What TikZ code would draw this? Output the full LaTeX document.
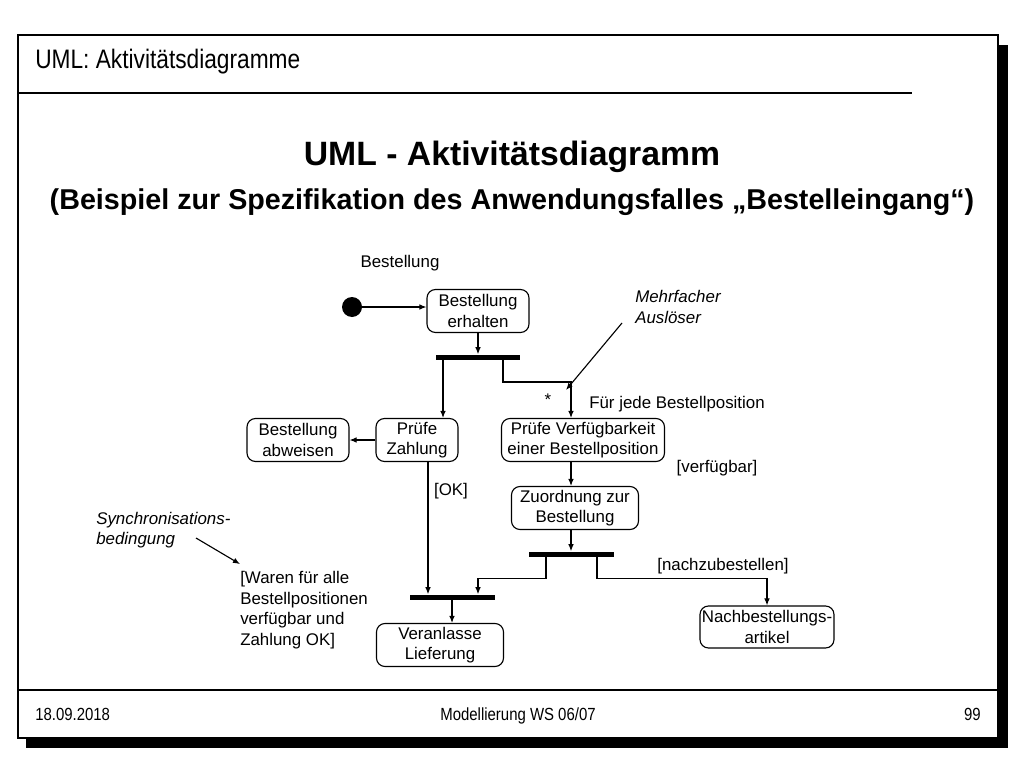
\documentclass[tikz,border=0pt]{standalone}
\usepackage{fontspec}
\setmainfont{Liberation Sans}
\newfontfamily\narrowfont[FakeStretch=0.85]{Liberation Sans}
\usepackage{tikz}
\usetikzlibrary{calc,arrows.meta,positioning}

\begin{document}
\begin{tikzpicture}[x=0.025cm,y=-0.025cm]

  % Parameters
  \def\pxl{0.025cm}
  \def\hact{43*\pxl}
  \def\diag{\fontsize{12}{14.6}\selectfont}

  % Styles
  \tikzstyle{frame}=[draw,line width=1pt,fill=white]
  \tikzstyle{rule}=[line width=1pt]
  \tikzstyle{foot}=[inner sep=0pt,font=\narrowfont\fontsize{12.5}{15}\selectfont]
  \tikzstyle{action}=[draw,line width=0.8pt,rounded corners=6pt,align=center,inner sep=1pt,minimum height=\hact,font=\diag]
  \tikzstyle{bar}=[fill=black,inner sep=0pt,minimum height=5*\pxl]
  \tikzstyle{flow}=[-{Latex[length=5pt,width=4pt]},line width=0.8pt]
  \tikzstyle{lbl}=[inner sep=0pt,font=\diag]
  \tikzstyle{note}=[inner sep=0pt,font=\diag\itshape,align=left]

  % ===========================================================================

  % Slide
  \fill[white] (0,0) rectangle (1024,768);
  \useasboundingbox (0,0) rectangle (1024,768);
  \fill[black] (998,45) rectangle (1008,748);
  \fill[black] (26,738) rectangle (1008,748);
  \path[frame] (18,35) rectangle (998,738);
  \node[anchor=west,inner sep=0pt,font=\narrowfont\fontsize{19}{22}\selectfont] (head) at (35,62) {UML: Aktivitätsdiagramme};
  \draw[rule] (18,93) -- (912,93);
  \draw[rule] (18,690) -- (998,690);
  \node[foot,anchor=base west] (date) at (35,720) {18.09.2018};
  \node[foot,anchor=base] (course) at (518,720) {Modellierung WS 06/07};
  \node[foot,anchor=base east] (page) at (981,720) {99};

  % Titles
  \node[font=\bfseries\fontsize{24}{28}\selectfont] (title) at (512,157) {UML - Aktivitätsdiagramm};
  \node[font=\bfseries\fontsize{20.4}{24}\selectfont] (subtitle) at (512,202) {(Beispiel zur Spezifikation des Anwendungsfalles „Bestelleingang“)};

  % Actions and bars
  \node[circle,fill=black,minimum size=20*\pxl,inner sep=0pt] (init) at (352,307) {};
  \node[action,minimum width=102*\pxl] (erhalten) at (478,311) {Bestellung\\erhalten};
  \node[bar,minimum width=84*\pxl] (fork) at (478,357) {};
  \node[action,minimum width=82*\pxl] (zahlung) at (417,440) {Prüfe\\Zahlung};
  \node[action,minimum width=102*\pxl] (abweisen) at (298,440) {Bestellung\\abweisen};
  \node[action,minimum width=163*\pxl] (verfueg) at (583,440) {Prüfe Verfügbarkeit\\einer Bestellposition};
  \node[action,minimum width=127*\pxl] (zuordnung) at (575,508) {Zuordnung zur\\Bestellung};
  \node[bar,minimum width=85*\pxl] (split) at (571,554) {};
  \node[bar,minimum width=85*\pxl] (join) at (452,597) {};
  \node[action,minimum width=127*\pxl] (liefer) at (440,645) {Veranlasse\\Lieferung};
  \node[action,minimum width=134*\pxl,minimum height=42*\pxl] (nachbest) at (767,627) {Nachbestellungs-\\artikel};
  \coordinate (each) at (571,382);

  % Draw transitions
  \draw[flow] (init) -- (init -| erhalten.west);
  \draw[flow] (erhalten) -- (fork);
  \draw[flow] ([xshift=-35*\pxl]fork.south) -- ([xshift=-35*\pxl]fork.south |- zahlung.north);
  \draw[flow] ([xshift=25*\pxl]fork.south) |- (each) -- (each |- verfueg.north);
  \draw[flow] (zahlung) -- (abweisen);
  \draw[flow] ([xshift=11*\pxl]zahlung.south) -- ([xshift=11*\pxl]zahlung.south |- join.north);
  \draw[flow] (each |- verfueg.south) -- (each |- zuordnung.north);
  \draw[flow] (each |- zuordnung.south) -- (each |- split.north);
  \draw[flow] ([xshift=-25*\pxl]split.south) -- ++(0,22) -| ([xshift=26*\pxl]join.north);
  \draw[flow] ([xshift=26*\pxl]split.south) -- ++(0,22) -| (nachbest.north);
  \draw[flow] (join.south) -- (join.south |- liefer.north);

  % Labels and notes
  \node[lbl] (order) at (400,263) {Bestellung};
  \node[lbl] (star) at (548,400) {*};
  \node[lbl,anchor=west] (foreach) at (589,404) {Für jede Bestellposition};
  \node[lbl] (ok) at (451,491) {[OK]};
  \node[lbl] (avail) at (717,468) {[verfügbar]};
  \node[lbl] (reorder) at (723,566) {[nachzubestellen]};
  \node[note,anchor=west] (multi) at (635,307) {Mehrfacher\\Auslöser};
  \coordinate (multitail) at (622,323);
  \draw[flow] (multitail) -- ($(each)+(-5,8)$);
  \node[note,anchor=west] (synclbl) at (96,530) {Synchronisations-\\bedingung};
  \node[lbl,anchor=west,align=left] (waren) at (240,610) {[Waren für alle\\Bestellpositionen\\verfügbar und\\Zahlung OK]};
  \coordinate (synctail) at (196,538);
  \draw[flow] (synctail) -- ([yshift=7*\pxl]waren.north west);

\end{tikzpicture}
\end{document}
